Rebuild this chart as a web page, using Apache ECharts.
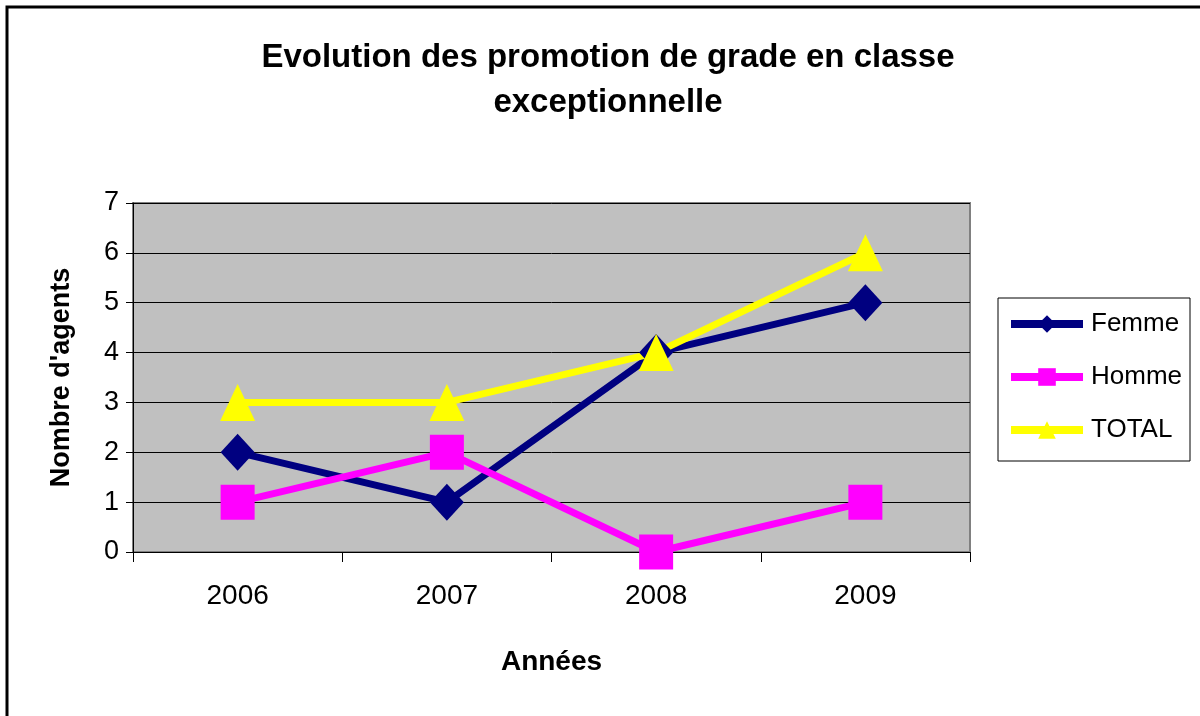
<!DOCTYPE html>
<html>
<head>
<meta charset="utf-8">
<script src="https://cdn.jsdelivr.net/npm/echarts@6/dist/echarts.min.js"></script>
<style>
  html, body { margin: 0; padding: 0; background: #fff; }
  #chart { width: 1200px; height: 716px; }
</style>
</head>
<body>
<div id="chart"></div>
<script>
  // données
  var annees = ['2006', '2007', '2008', '2009'];
  var femme = [2, 1, 4, 5];
  var homme = [1, 2, 0, 1];
  var total = [3, 3, 4, 6];

  var chart = echarts.init(document.getElementById('chart'));
  var police = 'Liberation Sans, Arial, sans-serif';

  var option = {
    backgroundColor: '#fff',
    animation: false,
    title: {
      text: 'Evolution des promotion de grade en classe\nexceptionnelle',
      left: 603,
      textAlign: 'center',
      top: 30,
      textStyle: {
        fontFamily: police,
        fontSize: 33,
        fontWeight: 'bold',
        color: '#000',
        lineHeight: 45
      }
    },
    graphic: [{
      type: 'rect',
      shape: { x: 7, y: 7, width: 1400, height: 900 },
      style: { fill: 'none', stroke: '#000', lineWidth: 3 },
      silent: true
    }],
    legend: {
      orient: 'vertical',
      left: 998,
      top: 298,
      padding: [13, 8, 18, 9],
      itemGap: 27,
      itemWidth: 72,
      itemHeight: 22,
      borderColor: '#000',
      borderWidth: 1,
      lineStyle: { width: 8 },
      textStyle: { fontFamily: police, fontSize: 26, color: '#000', padding: [0, 0, 0, 3] },
      data: ['Femme', 'Homme', 'TOTAL']
    },
    grid: {
      left: 133,
      top: 203,
      width: 837,
      height: 349,
      show: true,
      backgroundColor: '#C0C0C0',
      borderColor: '#808080',
      borderWidth: 2
    },
    xAxis: {
      type: 'category',
      data: annees,
      boundaryGap: true,
      name: 'Années',
      nameLocation: 'middle',
      nameGap: 96,
      nameTextStyle: { fontFamily: police, fontSize: 28, fontWeight: 'bold', color: '#000' },
      axisLine: { lineStyle: { color: '#000', width: 1 } },
      axisTick: { show: true, length: 10, lineStyle: { color: '#000' } },
      axisLabel: { fontFamily: police, fontSize: 28, color: '#000', margin: 30 }
    },
    yAxis: {
      type: 'value',
      min: 0,
      max: 7,
      interval: 1,
      name: "Nombre d'agents",
      nameLocation: 'middle',
      nameGap: 58,
      nameTextStyle: { fontFamily: police, fontSize: 27, fontWeight: 'bold', color: '#000' },
      axisLine: { show: true, lineStyle: { color: '#000', width: 1 } },
      axisTick: { show: true, length: 7, lineStyle: { color: '#000' } },
      axisLabel: { fontFamily: police, fontSize: 27, color: '#000', margin: 14 },
      splitLine: { show: true, lineStyle: { color: '#000', width: 1 } }
    },
    series: [
      {
        name: 'Femme',
        type: 'line',
        data: femme,
        symbol: 'diamond',
        symbolSize: [34, 37],
        clip: false,
        color: '#000080',
        lineStyle: { color: '#000080', width: 7 },
        itemStyle: { color: '#000080' }
      },
      {
        name: 'Homme',
        type: 'line',
        data: homme,
        symbol: 'rect',
        symbolSize: [34, 35],
        clip: false,
        color: '#FF00FF',
        lineStyle: { color: '#FF00FF', width: 7 },
        itemStyle: { color: '#FF00FF' }
      },
      {
        name: 'TOTAL',
        type: 'line',
        data: total,
        symbol: 'triangle',
        symbolSize: [35, 37],
        clip: false,
        color: '#FFFF00',
        lineStyle: { color: '#FFFF00', width: 7 },
        itemStyle: { color: '#FFFF00' }
      }
    ]
  };

  if (option && typeof option === 'object') {
    chart.setOption(option, true);
  }
</script>
</body>
</html>
